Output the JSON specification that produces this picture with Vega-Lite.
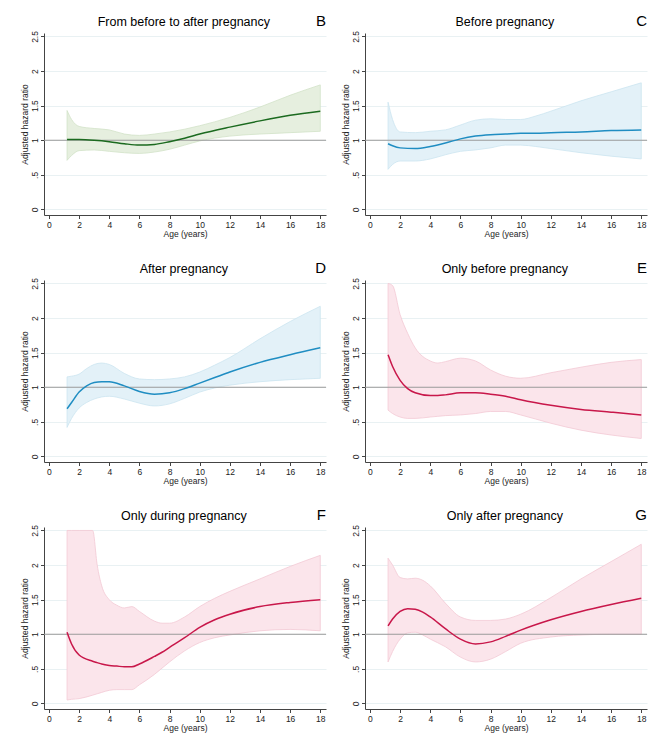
{
  "$schema": "https://vega.github.io/schema/vega-lite/v6.json",
  "padding": {"left": 20, "top": 14, "right": 5, "bottom": 5},
  "spacing": 23,
  "datasets": {
    "curves": [
      {"panel":"B","age":1.2,"hr":1.01,"lo":0.71,"hi":1.43},
      {"panel":"B","age":1.5,"hr":1.01,"lo":0.78,"hi":1.30},
      {"panel":"B","age":2,"hr":1.01,"lo":0.85,"hi":1.20},
      {"panel":"B","age":3,"hr":1.00,"lo":0.86,"hi":1.17},
      {"panel":"B","age":4,"hr":0.98,"lo":0.84,"hi":1.15},
      {"panel":"B","age":5,"hr":0.95,"lo":0.82,"hi":1.09},
      {"panel":"B","age":6,"hr":0.93,"lo":0.81,"hi":1.07},
      {"panel":"B","age":7,"hr":0.94,"lo":0.83,"hi":1.09},
      {"panel":"B","age":8,"hr":0.98,"lo":0.87,"hi":1.12},
      {"panel":"B","age":9,"hr":1.03,"lo":0.93,"hi":1.16},
      {"panel":"B","age":10,"hr":1.09,"lo":0.99,"hi":1.21},
      {"panel":"B","age":12,"hr":1.19,"lo":1.06,"hi":1.33},
      {"panel":"B","age":14,"hr":1.28,"lo":1.09,"hi":1.48},
      {"panel":"B","age":16,"hr":1.36,"lo":1.11,"hi":1.65},
      {"panel":"B","age":18,"hr":1.42,"lo":1.13,"hi":1.80},

      {"panel":"C","age":1.2,"hr":0.95,"lo":0.58,"hi":1.55},
      {"panel":"C","age":1.5,"hr":0.92,"lo":0.65,"hi":1.30},
      {"panel":"C","age":2,"hr":0.89,"lo":0.70,"hi":1.12},
      {"panel":"C","age":3,"hr":0.88,"lo":0.70,"hi":1.11},
      {"panel":"C","age":4,"hr":0.91,"lo":0.73,"hi":1.13},
      {"panel":"C","age":5,"hr":0.96,"lo":0.79,"hi":1.15},
      {"panel":"C","age":6,"hr":1.02,"lo":0.84,"hi":1.22},
      {"panel":"C","age":7,"hr":1.06,"lo":0.86,"hi":1.29},
      {"panel":"C","age":8,"hr":1.08,"lo":0.89,"hi":1.31},
      {"panel":"C","age":9,"hr":1.09,"lo":0.93,"hi":1.30},
      {"panel":"C","age":10,"hr":1.10,"lo":0.93,"hi":1.30},
      {"panel":"C","age":11,"hr":1.10,"lo":0.91,"hi":1.35},
      {"panel":"C","age":12,"hr":1.11,"lo":0.88,"hi":1.42},
      {"panel":"C","age":14,"hr":1.12,"lo":0.82,"hi":1.57},
      {"panel":"C","age":16,"hr":1.14,"lo":0.77,"hi":1.70},
      {"panel":"C","age":18,"hr":1.15,"lo":0.73,"hi":1.83},

      {"panel":"D","age":1.2,"hr":0.69,"lo":0.42,"hi":1.15},
      {"panel":"D","age":1.5,"hr":0.78,"lo":0.55,"hi":1.16},
      {"panel":"D","age":2,"hr":0.93,"lo":0.70,"hi":1.19},
      {"panel":"D","age":2.5,"hr":1.02,"lo":0.78,"hi":1.27},
      {"panel":"D","age":3,"hr":1.07,"lo":0.83,"hi":1.33},
      {"panel":"D","age":3.5,"hr":1.08,"lo":0.86,"hi":1.35},
      {"panel":"D","age":4,"hr":1.08,"lo":0.87,"hi":1.33},
      {"panel":"D","age":5,"hr":1.02,"lo":0.83,"hi":1.20},
      {"panel":"D","age":6,"hr":0.94,"lo":0.77,"hi":1.12},
      {"panel":"D","age":7,"hr":0.90,"lo":0.73,"hi":1.11},
      {"panel":"D","age":8,"hr":0.92,"lo":0.76,"hi":1.12},
      {"panel":"D","age":9,"hr":0.98,"lo":0.84,"hi":1.15},
      {"panel":"D","age":10,"hr":1.06,"lo":0.93,"hi":1.22},
      {"panel":"D","age":11,"hr":1.14,"lo":0.99,"hi":1.32},
      {"panel":"D","age":12,"hr":1.22,"lo":1.03,"hi":1.43},
      {"panel":"D","age":14,"hr":1.36,"lo":1.08,"hi":1.70},
      {"panel":"D","age":16,"hr":1.47,"lo":1.11,"hi":1.95},
      {"panel":"D","age":18,"hr":1.57,"lo":1.13,"hi":2.17},

      {"panel":"E","age":1.2,"hr":1.47,"lo":0.67,"hi":2.50},
      {"panel":"E","age":1.5,"hr":1.30,"lo":0.62,"hi":2.47},
      {"panel":"E","age":2,"hr":1.10,"lo":0.57,"hi":2.05},
      {"panel":"E","age":2.5,"hr":0.98,"lo":0.55,"hi":1.78},
      {"panel":"E","age":3,"hr":0.92,"lo":0.55,"hi":1.57},
      {"panel":"E","age":4,"hr":0.88,"lo":0.57,"hi":1.38},
      {"panel":"E","age":4.5,"hr":0.88,"lo":0.58,"hi":1.35},
      {"panel":"E","age":5,"hr":0.89,"lo":0.59,"hi":1.37},
      {"panel":"E","age":6,"hr":0.92,"lo":0.60,"hi":1.42},
      {"panel":"E","age":7,"hr":0.92,"lo":0.62,"hi":1.38},
      {"panel":"E","age":8,"hr":0.90,"lo":0.65,"hi":1.25},
      {"panel":"E","age":9,"hr":0.87,"lo":0.65,"hi":1.16},
      {"panel":"E","age":10,"hr":0.82,"lo":0.60,"hi":1.13},
      {"panel":"E","age":12,"hr":0.74,"lo":0.48,"hi":1.21},
      {"panel":"E","age":14,"hr":0.68,"lo":0.38,"hi":1.29},
      {"panel":"E","age":16,"hr":0.64,"lo":0.31,"hi":1.36},
      {"panel":"E","age":18,"hr":0.60,"lo":0.26,"hi":1.40},

      {"panel":"F","age":1.2,"hr":1.03,"lo":0.05,"hi":2.50},
      {"panel":"F","age":1.5,"hr":0.86,"lo":0.06,"hi":2.50},
      {"panel":"F","age":2,"hr":0.70,"lo":0.07,"hi":2.50},
      {"panel":"F","age":2.9,"hr":0.61,"lo":0.12,"hi":2.50},
      {"panel":"F","age":3.2,"hr":0.59,"lo":0.14,"hi":2.00},
      {"panel":"F","age":3.5,"hr":0.57,"lo":0.16,"hi":1.70},
      {"panel":"F","age":4,"hr":0.55,"lo":0.19,"hi":1.50},
      {"panel":"F","age":4.5,"hr":0.54,"lo":0.20,"hi":1.42},
      {"panel":"F","age":5,"hr":0.53,"lo":0.20,"hi":1.38},
      {"panel":"F","age":5.5,"hr":0.53,"lo":0.20,"hi":1.40},
      {"panel":"F","age":6,"hr":0.57,"lo":0.27,"hi":1.33},
      {"panel":"F","age":7,"hr":0.68,"lo":0.42,"hi":1.19},
      {"panel":"F","age":7.5,"hr":0.74,"lo":0.51,"hi":1.16},
      {"panel":"F","age":8,"hr":0.81,"lo":0.60,"hi":1.16},
      {"panel":"F","age":9,"hr":0.95,"lo":0.76,"hi":1.25},
      {"panel":"F","age":10,"hr":1.10,"lo":0.88,"hi":1.40},
      {"panel":"F","age":11,"hr":1.21,"lo":0.95,"hi":1.52},
      {"panel":"F","age":12,"hr":1.29,"lo":0.99,"hi":1.62},
      {"panel":"F","age":14,"hr":1.40,"lo":1.05,"hi":1.80},
      {"panel":"F","age":16,"hr":1.46,"lo":1.07,"hi":1.98},
      {"panel":"F","age":18,"hr":1.50,"lo":1.05,"hi":2.14},

      {"panel":"G","age":1.2,"hr":1.12,"lo":0.60,"hi":2.10},
      {"panel":"G","age":1.5,"hr":1.22,"lo":0.75,"hi":2.00},
      {"panel":"G","age":2,"hr":1.33,"lo":0.93,"hi":1.82},
      {"panel":"G","age":2.5,"hr":1.37,"lo":1.02,"hi":1.80},
      {"panel":"G","age":3,"hr":1.36,"lo":1.03,"hi":1.81},
      {"panel":"G","age":3.5,"hr":1.32,"lo":0.99,"hi":1.78},
      {"panel":"G","age":4,"hr":1.25,"lo":0.93,"hi":1.70},
      {"panel":"G","age":5,"hr":1.08,"lo":0.82,"hi":1.45},
      {"panel":"G","age":6,"hr":0.93,"lo":0.67,"hi":1.25},
      {"panel":"G","age":7,"hr":0.86,"lo":0.60,"hi":1.20},
      {"panel":"G","age":8,"hr":0.89,"lo":0.64,"hi":1.20},
      {"panel":"G","age":9,"hr":0.97,"lo":0.75,"hi":1.22},
      {"panel":"G","age":10,"hr":1.06,"lo":0.87,"hi":1.29},
      {"panel":"G","age":12,"hr":1.21,"lo":0.96,"hi":1.53},
      {"panel":"G","age":14,"hr":1.33,"lo":0.99,"hi":1.80},
      {"panel":"G","age":16,"hr":1.43,"lo":1.00,"hi":2.05},
      {"panel":"G","age":18,"hr":1.52,"lo":1.00,"hi":2.30}
    ],
    "ref": [{"ref": 1}],
    "labels": [
      {"panel":"B","letter":"B","title":"From before to after pregnancy"},
      {"panel":"C","letter":"C","title":"Before pregnancy"},
      {"panel":"D","letter":"D","title":"After pregnancy"},
      {"panel":"E","letter":"E","title":"Only before pregnancy"},
      {"panel":"F","letter":"F","title":"Only during pregnancy"},
      {"panel":"G","letter":"G","title":"Only after pregnancy"}
    ]
  },
  "vconcat": [
    {"hconcat": [
      {"width": 282, "height": 182,
       "layer": [
        {"data": {"name": "curves"}, "transform": [{"filter": "datum.panel == 'B'"}],
         "mark": {"type": "area", "interpolate": "monotone", "fill": "#e6efdf", "stroke": "#d2e2c8", "strokeWidth": 0.8},
         "encoding": {
           "x": {"field": "age", "type": "quantitative", "scale": {"domain": [-0.33, 18.38], "nice": false, "zero": false}, "axis": {"values": [0,2,4,6,8,10,12,14,16,18], "labelOverlap": false, "title": "Age (years)"}},
           "y": {"field": "lo", "type": "quantitative", "scale": {"domain": [-0.08, 2.55], "nice": false, "zero": false}, "axis": {"values": [0,0.5,1,1.5,2,2.5], "labelOverlap": false, "labelExpr": "datum.value == 0.5 ? '.5' : format(datum.value, '~g')", "title": "Adjusted hazard ratio"}},
           "y2": {"field": "hi"}}},
        {"data": {"name": "ref"}, "mark": {"type": "rule", "color": "#9b9b9b", "strokeWidth": 1}, "encoding": {"y": {"field": "ref", "type": "quantitative", "axis": {"values": [0,0.5,1,1.5,2,2.5], "labelOverlap": false, "labelExpr": "datum.value == 0.5 ? '.5' : format(datum.value, '~g')", "title": "Adjusted hazard ratio"}}}},
        {"data": {"name": "curves"}, "transform": [{"filter": "datum.panel == 'B'"}],
         "mark": {"type": "line", "interpolate": "monotone", "color": "#1b6a1f", "strokeWidth": 1.5},
         "encoding": {"x": {"field": "age", "type": "quantitative", "axis": {"values": [0,2,4,6,8,10,12,14,16,18], "labelOverlap": false, "title": "Age (years)"}}, "y": {"field": "hr", "type": "quantitative", "axis": {"values": [0,0.5,1,1.5,2,2.5], "labelOverlap": false, "labelExpr": "datum.value == 0.5 ? '.5' : format(datum.value, '~g')", "title": "Adjusted hazard ratio"}}}},
        {"data": {"name": "labels"}, "transform": [{"filter": "datum.panel == 'B'"}],
         "mark": {"type": "text", "align": "right", "baseline": "alphabetic", "fontSize": 15, "color": "#000"},
         "encoding": {"x": {"datum": 18.38, "type": "quantitative", "axis": {"values": [0,2,4,6,8,10,12,14,16,18], "labelOverlap": false, "title": "Age (years)"}}, "y": {"datum": 2.65, "type": "quantitative", "axis": {"values": [0,0.5,1,1.5,2,2.5], "labelOverlap": false, "labelExpr": "datum.value == 0.5 ? '.5' : format(datum.value, '~g')", "title": "Adjusted hazard ratio"}}, "text": {"field": "letter"}}},
        {"data": {"name": "labels"}, "transform": [{"filter": "datum.panel == 'B'"}],
         "mark": {"type": "text", "align": "center", "baseline": "alphabetic", "fontSize": 12.5, "color": "#000"},
         "encoding": {"x": {"datum": 8.95, "type": "quantitative", "axis": {"values": [0,2,4,6,8,10,12,14,16,18], "labelOverlap": false, "title": "Age (years)"}}, "y": {"datum": 2.65, "type": "quantitative", "axis": {"values": [0,0.5,1,1.5,2,2.5], "labelOverlap": false, "labelExpr": "datum.value == 0.5 ? '.5' : format(datum.value, '~g')", "title": "Adjusted hazard ratio"}}, "text": {"field": "title"}}}
       ]},
      {"width": 282, "height": 182,
       "layer": [
        {"data": {"name": "curves"}, "transform": [{"filter": "datum.panel == 'C'"}],
         "mark": {"type": "area", "interpolate": "monotone", "fill": "#e3f1f8", "stroke": "#cbe4f0", "strokeWidth": 0.8},
         "encoding": {
           "x": {"field": "age", "type": "quantitative", "scale": {"domain": [-0.33, 18.38], "nice": false, "zero": false}, "axis": {"values": [0,2,4,6,8,10,12,14,16,18], "labelOverlap": false, "title": "Age (years)"}},
           "y": {"field": "lo", "type": "quantitative", "scale": {"domain": [-0.08, 2.55], "nice": false, "zero": false}, "axis": {"values": [0,0.5,1,1.5,2,2.5], "labelOverlap": false, "labelExpr": "datum.value == 0.5 ? '.5' : format(datum.value, '~g')", "title": "Adjusted hazard ratio"}},
           "y2": {"field": "hi"}}},
        {"data": {"name": "ref"}, "mark": {"type": "rule", "color": "#9b9b9b", "strokeWidth": 1}, "encoding": {"y": {"field": "ref", "type": "quantitative", "axis": {"values": [0,0.5,1,1.5,2,2.5], "labelOverlap": false, "labelExpr": "datum.value == 0.5 ? '.5' : format(datum.value, '~g')", "title": "Adjusted hazard ratio"}}}},
        {"data": {"name": "curves"}, "transform": [{"filter": "datum.panel == 'C'"}],
         "mark": {"type": "line", "interpolate": "monotone", "color": "#1f8dc2", "strokeWidth": 1.5},
         "encoding": {"x": {"field": "age", "type": "quantitative", "axis": {"values": [0,2,4,6,8,10,12,14,16,18], "labelOverlap": false, "title": "Age (years)"}}, "y": {"field": "hr", "type": "quantitative", "axis": {"values": [0,0.5,1,1.5,2,2.5], "labelOverlap": false, "labelExpr": "datum.value == 0.5 ? '.5' : format(datum.value, '~g')", "title": "Adjusted hazard ratio"}}}},
        {"data": {"name": "labels"}, "transform": [{"filter": "datum.panel == 'C'"}],
         "mark": {"type": "text", "align": "right", "baseline": "alphabetic", "fontSize": 15, "color": "#000"},
         "encoding": {"x": {"datum": 18.38, "type": "quantitative", "axis": {"values": [0,2,4,6,8,10,12,14,16,18], "labelOverlap": false, "title": "Age (years)"}}, "y": {"datum": 2.65, "type": "quantitative", "axis": {"values": [0,0.5,1,1.5,2,2.5], "labelOverlap": false, "labelExpr": "datum.value == 0.5 ? '.5' : format(datum.value, '~g')", "title": "Adjusted hazard ratio"}}, "text": {"field": "letter"}}},
        {"data": {"name": "labels"}, "transform": [{"filter": "datum.panel == 'C'"}],
         "mark": {"type": "text", "align": "center", "baseline": "alphabetic", "fontSize": 12.5, "color": "#000"},
         "encoding": {"x": {"datum": 8.95, "type": "quantitative", "axis": {"values": [0,2,4,6,8,10,12,14,16,18], "labelOverlap": false, "title": "Age (years)"}}, "y": {"datum": 2.65, "type": "quantitative", "axis": {"values": [0,0.5,1,1.5,2,2.5], "labelOverlap": false, "labelExpr": "datum.value == 0.5 ? '.5' : format(datum.value, '~g')", "title": "Adjusted hazard ratio"}}, "text": {"field": "title"}}}
       ]}
    ]},
    {"hconcat": [
      {"width": 282, "height": 182,
       "layer": [
        {"data": {"name": "curves"}, "transform": [{"filter": "datum.panel == 'D'"}],
         "mark": {"type": "area", "interpolate": "monotone", "fill": "#e3f1f8", "stroke": "#cbe4f0", "strokeWidth": 0.8},
         "encoding": {
           "x": {"field": "age", "type": "quantitative", "scale": {"domain": [-0.33, 18.38], "nice": false, "zero": false}, "axis": {"values": [0,2,4,6,8,10,12,14,16,18], "labelOverlap": false, "title": "Age (years)"}},
           "y": {"field": "lo", "type": "quantitative", "scale": {"domain": [-0.08, 2.55], "nice": false, "zero": false}, "axis": {"values": [0,0.5,1,1.5,2,2.5], "labelOverlap": false, "labelExpr": "datum.value == 0.5 ? '.5' : format(datum.value, '~g')", "title": "Adjusted hazard ratio"}},
           "y2": {"field": "hi"}}},
        {"data": {"name": "ref"}, "mark": {"type": "rule", "color": "#9b9b9b", "strokeWidth": 1}, "encoding": {"y": {"field": "ref", "type": "quantitative", "axis": {"values": [0,0.5,1,1.5,2,2.5], "labelOverlap": false, "labelExpr": "datum.value == 0.5 ? '.5' : format(datum.value, '~g')", "title": "Adjusted hazard ratio"}}}},
        {"data": {"name": "curves"}, "transform": [{"filter": "datum.panel == 'D'"}],
         "mark": {"type": "line", "interpolate": "monotone", "color": "#1f8dc2", "strokeWidth": 1.5},
         "encoding": {"x": {"field": "age", "type": "quantitative", "axis": {"values": [0,2,4,6,8,10,12,14,16,18], "labelOverlap": false, "title": "Age (years)"}}, "y": {"field": "hr", "type": "quantitative", "axis": {"values": [0,0.5,1,1.5,2,2.5], "labelOverlap": false, "labelExpr": "datum.value == 0.5 ? '.5' : format(datum.value, '~g')", "title": "Adjusted hazard ratio"}}}},
        {"data": {"name": "labels"}, "transform": [{"filter": "datum.panel == 'D'"}],
         "mark": {"type": "text", "align": "right", "baseline": "alphabetic", "fontSize": 15, "color": "#000"},
         "encoding": {"x": {"datum": 18.38, "type": "quantitative", "axis": {"values": [0,2,4,6,8,10,12,14,16,18], "labelOverlap": false, "title": "Age (years)"}}, "y": {"datum": 2.65, "type": "quantitative", "axis": {"values": [0,0.5,1,1.5,2,2.5], "labelOverlap": false, "labelExpr": "datum.value == 0.5 ? '.5' : format(datum.value, '~g')", "title": "Adjusted hazard ratio"}}, "text": {"field": "letter"}}},
        {"data": {"name": "labels"}, "transform": [{"filter": "datum.panel == 'D'"}],
         "mark": {"type": "text", "align": "center", "baseline": "alphabetic", "fontSize": 12.5, "color": "#000"},
         "encoding": {"x": {"datum": 8.95, "type": "quantitative", "axis": {"values": [0,2,4,6,8,10,12,14,16,18], "labelOverlap": false, "title": "Age (years)"}}, "y": {"datum": 2.65, "type": "quantitative", "axis": {"values": [0,0.5,1,1.5,2,2.5], "labelOverlap": false, "labelExpr": "datum.value == 0.5 ? '.5' : format(datum.value, '~g')", "title": "Adjusted hazard ratio"}}, "text": {"field": "title"}}}
       ]},
      {"width": 282, "height": 182,
       "layer": [
        {"data": {"name": "curves"}, "transform": [{"filter": "datum.panel == 'E'"}],
         "mark": {"type": "area", "interpolate": "monotone", "fill": "#fbe5eb", "stroke": "#f3c9d4", "strokeWidth": 0.8},
         "encoding": {
           "x": {"field": "age", "type": "quantitative", "scale": {"domain": [-0.33, 18.38], "nice": false, "zero": false}, "axis": {"values": [0,2,4,6,8,10,12,14,16,18], "labelOverlap": false, "title": "Age (years)"}},
           "y": {"field": "lo", "type": "quantitative", "scale": {"domain": [-0.08, 2.55], "nice": false, "zero": false}, "axis": {"values": [0,0.5,1,1.5,2,2.5], "labelOverlap": false, "labelExpr": "datum.value == 0.5 ? '.5' : format(datum.value, '~g')", "title": "Adjusted hazard ratio"}},
           "y2": {"field": "hi"}}},
        {"data": {"name": "ref"}, "mark": {"type": "rule", "color": "#9b9b9b", "strokeWidth": 1}, "encoding": {"y": {"field": "ref", "type": "quantitative", "axis": {"values": [0,0.5,1,1.5,2,2.5], "labelOverlap": false, "labelExpr": "datum.value == 0.5 ? '.5' : format(datum.value, '~g')", "title": "Adjusted hazard ratio"}}}},
        {"data": {"name": "curves"}, "transform": [{"filter": "datum.panel == 'E'"}],
         "mark": {"type": "line", "interpolate": "monotone", "color": "#c8174a", "strokeWidth": 1.5},
         "encoding": {"x": {"field": "age", "type": "quantitative", "axis": {"values": [0,2,4,6,8,10,12,14,16,18], "labelOverlap": false, "title": "Age (years)"}}, "y": {"field": "hr", "type": "quantitative", "axis": {"values": [0,0.5,1,1.5,2,2.5], "labelOverlap": false, "labelExpr": "datum.value == 0.5 ? '.5' : format(datum.value, '~g')", "title": "Adjusted hazard ratio"}}}},
        {"data": {"name": "labels"}, "transform": [{"filter": "datum.panel == 'E'"}],
         "mark": {"type": "text", "align": "right", "baseline": "alphabetic", "fontSize": 15, "color": "#000"},
         "encoding": {"x": {"datum": 18.38, "type": "quantitative", "axis": {"values": [0,2,4,6,8,10,12,14,16,18], "labelOverlap": false, "title": "Age (years)"}}, "y": {"datum": 2.65, "type": "quantitative", "axis": {"values": [0,0.5,1,1.5,2,2.5], "labelOverlap": false, "labelExpr": "datum.value == 0.5 ? '.5' : format(datum.value, '~g')", "title": "Adjusted hazard ratio"}}, "text": {"field": "letter"}}},
        {"data": {"name": "labels"}, "transform": [{"filter": "datum.panel == 'E'"}],
         "mark": {"type": "text", "align": "center", "baseline": "alphabetic", "fontSize": 12.5, "color": "#000"},
         "encoding": {"x": {"datum": 8.95, "type": "quantitative", "axis": {"values": [0,2,4,6,8,10,12,14,16,18], "labelOverlap": false, "title": "Age (years)"}}, "y": {"datum": 2.65, "type": "quantitative", "axis": {"values": [0,0.5,1,1.5,2,2.5], "labelOverlap": false, "labelExpr": "datum.value == 0.5 ? '.5' : format(datum.value, '~g')", "title": "Adjusted hazard ratio"}}, "text": {"field": "title"}}}
       ]}
    ]},
    {"hconcat": [
      {"width": 282, "height": 182,
       "layer": [
        {"data": {"name": "curves"}, "transform": [{"filter": "datum.panel == 'F'"}],
         "mark": {"type": "area", "interpolate": "monotone", "fill": "#fbe5eb", "stroke": "#f3c9d4", "strokeWidth": 0.8},
         "encoding": {
           "x": {"field": "age", "type": "quantitative", "scale": {"domain": [-0.33, 18.38], "nice": false, "zero": false}, "axis": {"values": [0,2,4,6,8,10,12,14,16,18], "labelOverlap": false, "title": "Age (years)"}},
           "y": {"field": "lo", "type": "quantitative", "scale": {"domain": [-0.08, 2.55], "nice": false, "zero": false}, "axis": {"values": [0,0.5,1,1.5,2,2.5], "labelOverlap": false, "labelExpr": "datum.value == 0.5 ? '.5' : format(datum.value, '~g')", "title": "Adjusted hazard ratio"}},
           "y2": {"field": "hi"}}},
        {"data": {"name": "ref"}, "mark": {"type": "rule", "color": "#9b9b9b", "strokeWidth": 1}, "encoding": {"y": {"field": "ref", "type": "quantitative", "axis": {"values": [0,0.5,1,1.5,2,2.5], "labelOverlap": false, "labelExpr": "datum.value == 0.5 ? '.5' : format(datum.value, '~g')", "title": "Adjusted hazard ratio"}}}},
        {"data": {"name": "curves"}, "transform": [{"filter": "datum.panel == 'F'"}],
         "mark": {"type": "line", "interpolate": "monotone", "color": "#c8174a", "strokeWidth": 1.5},
         "encoding": {"x": {"field": "age", "type": "quantitative", "axis": {"values": [0,2,4,6,8,10,12,14,16,18], "labelOverlap": false, "title": "Age (years)"}}, "y": {"field": "hr", "type": "quantitative", "axis": {"values": [0,0.5,1,1.5,2,2.5], "labelOverlap": false, "labelExpr": "datum.value == 0.5 ? '.5' : format(datum.value, '~g')", "title": "Adjusted hazard ratio"}}}},
        {"data": {"name": "labels"}, "transform": [{"filter": "datum.panel == 'F'"}],
         "mark": {"type": "text", "align": "right", "baseline": "alphabetic", "fontSize": 15, "color": "#000"},
         "encoding": {"x": {"datum": 18.38, "type": "quantitative", "axis": {"values": [0,2,4,6,8,10,12,14,16,18], "labelOverlap": false, "title": "Age (years)"}}, "y": {"datum": 2.65, "type": "quantitative", "axis": {"values": [0,0.5,1,1.5,2,2.5], "labelOverlap": false, "labelExpr": "datum.value == 0.5 ? '.5' : format(datum.value, '~g')", "title": "Adjusted hazard ratio"}}, "text": {"field": "letter"}}},
        {"data": {"name": "labels"}, "transform": [{"filter": "datum.panel == 'F'"}],
         "mark": {"type": "text", "align": "center", "baseline": "alphabetic", "fontSize": 12.5, "color": "#000"},
         "encoding": {"x": {"datum": 8.95, "type": "quantitative", "axis": {"values": [0,2,4,6,8,10,12,14,16,18], "labelOverlap": false, "title": "Age (years)"}}, "y": {"datum": 2.65, "type": "quantitative", "axis": {"values": [0,0.5,1,1.5,2,2.5], "labelOverlap": false, "labelExpr": "datum.value == 0.5 ? '.5' : format(datum.value, '~g')", "title": "Adjusted hazard ratio"}}, "text": {"field": "title"}}}
       ]},
      {"width": 282, "height": 182,
       "layer": [
        {"data": {"name": "curves"}, "transform": [{"filter": "datum.panel == 'G'"}],
         "mark": {"type": "area", "interpolate": "monotone", "fill": "#fbe5eb", "stroke": "#f3c9d4", "strokeWidth": 0.8},
         "encoding": {
           "x": {"field": "age", "type": "quantitative", "scale": {"domain": [-0.33, 18.38], "nice": false, "zero": false}, "axis": {"values": [0,2,4,6,8,10,12,14,16,18], "labelOverlap": false, "title": "Age (years)"}},
           "y": {"field": "lo", "type": "quantitative", "scale": {"domain": [-0.08, 2.55], "nice": false, "zero": false}, "axis": {"values": [0,0.5,1,1.5,2,2.5], "labelOverlap": false, "labelExpr": "datum.value == 0.5 ? '.5' : format(datum.value, '~g')", "title": "Adjusted hazard ratio"}},
           "y2": {"field": "hi"}}},
        {"data": {"name": "ref"}, "mark": {"type": "rule", "color": "#9b9b9b", "strokeWidth": 1}, "encoding": {"y": {"field": "ref", "type": "quantitative", "axis": {"values": [0,0.5,1,1.5,2,2.5], "labelOverlap": false, "labelExpr": "datum.value == 0.5 ? '.5' : format(datum.value, '~g')", "title": "Adjusted hazard ratio"}}}},
        {"data": {"name": "curves"}, "transform": [{"filter": "datum.panel == 'G'"}],
         "mark": {"type": "line", "interpolate": "monotone", "color": "#c8174a", "strokeWidth": 1.5},
         "encoding": {"x": {"field": "age", "type": "quantitative", "axis": {"values": [0,2,4,6,8,10,12,14,16,18], "labelOverlap": false, "title": "Age (years)"}}, "y": {"field": "hr", "type": "quantitative", "axis": {"values": [0,0.5,1,1.5,2,2.5], "labelOverlap": false, "labelExpr": "datum.value == 0.5 ? '.5' : format(datum.value, '~g')", "title": "Adjusted hazard ratio"}}}},
        {"data": {"name": "labels"}, "transform": [{"filter": "datum.panel == 'G'"}],
         "mark": {"type": "text", "align": "right", "baseline": "alphabetic", "fontSize": 15, "color": "#000"},
         "encoding": {"x": {"datum": 18.38, "type": "quantitative", "axis": {"values": [0,2,4,6,8,10,12,14,16,18], "labelOverlap": false, "title": "Age (years)"}}, "y": {"datum": 2.65, "type": "quantitative", "axis": {"values": [0,0.5,1,1.5,2,2.5], "labelOverlap": false, "labelExpr": "datum.value == 0.5 ? '.5' : format(datum.value, '~g')", "title": "Adjusted hazard ratio"}}, "text": {"field": "letter"}}},
        {"data": {"name": "labels"}, "transform": [{"filter": "datum.panel == 'G'"}],
         "mark": {"type": "text", "align": "center", "baseline": "alphabetic", "fontSize": 12.5, "color": "#000"},
         "encoding": {"x": {"datum": 8.95, "type": "quantitative", "axis": {"values": [0,2,4,6,8,10,12,14,16,18], "labelOverlap": false, "title": "Age (years)"}}, "y": {"datum": 2.65, "type": "quantitative", "axis": {"values": [0,0.5,1,1.5,2,2.5], "labelOverlap": false, "labelExpr": "datum.value == 0.5 ? '.5' : format(datum.value, '~g')", "title": "Adjusted hazard ratio"}}, "text": {"field": "title"}}}
       ]}
    ]}
  ],
  "config": {
    "font": "Liberation Sans",
    "view": {"stroke": null},
    "concat": {"spacing": 14},
    "axis": {"domainColor": "#444", "tickColor": "#444", "labelColor": "#222", "titleColor": "#222", "labelFontSize": 8.5, "titleFontSize": 8.5, "titleFontWeight": "normal", "tickSize": 3.5, "labelPadding": 1.5, "titlePadding": 1, "labelFont": "Liberation Sans", "titleFont": "Liberation Sans", "labelOverlap": false, "labelFlush": false, "labelBound": false},
    "axisX": {"grid": false},
    "axisY": {"grid": true, "gridColor": "#e9f1f3", "gridWidth": 1, "labelAngle": 270, "labelAlign": "center", "labelBaseline": "bottom"}
  }
}
